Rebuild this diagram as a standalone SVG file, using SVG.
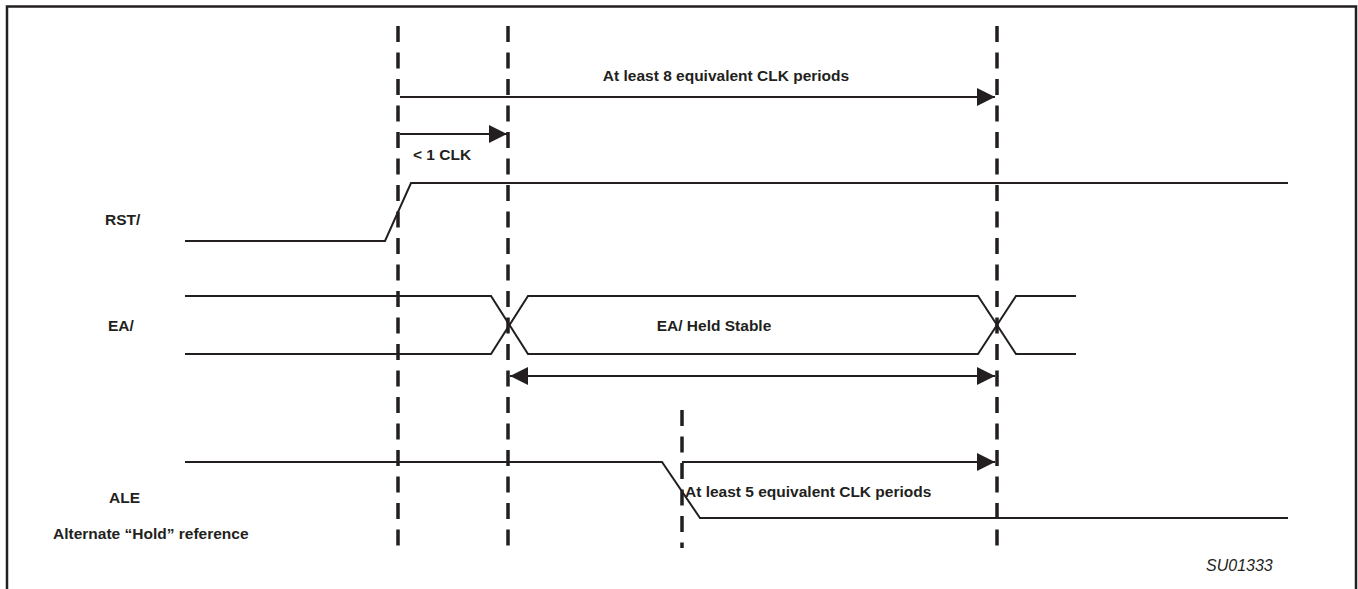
<svg xmlns="http://www.w3.org/2000/svg" width="1358" height="589" viewBox="0 0 1358 589">
<defs>
<style>
.sig{fill:none;stroke:#231f20;stroke-width:2;stroke-linejoin:miter}
.dash{fill:none;stroke:#231f20;stroke-width:3.5;stroke-dasharray:16 10.5}
.arr{fill:none;stroke:#231f20;stroke-width:2}
.frame{fill:none;stroke:#231f20;stroke-width:2.5}
.lbl{font-family:"Liberation Sans",Arial,sans-serif;font-weight:bold;font-size:15.5px;fill:#231f20}
.id{font-family:"Liberation Sans",Arial,sans-serif;font-style:italic;font-size:16px;fill:#231f20}
</style>
<marker id="ah" markerWidth="18" markerHeight="18" viewBox="0 0 18 18" refX="18" refY="9" orient="auto-start-reverse" markerUnits="userSpaceOnUse">
<path d="M0,0 L18,9 L0,18 Z" fill="#231f20"/>
</marker>
</defs>
<rect width="1358" height="589" fill="#ffffff"/>
<path class="frame" d="M7,589 L7,6.5 L1356,6.5 L1356,589"/>

<g id="guides">
<line class="dash" x1="398" y1="26" x2="398" y2="548"/>
<line class="dash" x1="508" y1="26" x2="508" y2="548"/>
<line class="dash" x1="997" y1="26" x2="997" y2="548"/>
<line class="dash" x1="682" y1="410" x2="682" y2="548"/>
</g>

<g id="RST">
<polyline class="sig" points="185,241 385,241 411,183 1288,183"/>
<text class="lbl" x="105" y="225">RST/</text>
</g>

<g id="EA">
<polyline class="sig" points="185,296 491,296 528,354 978,354 1016,296 1076,296"/>
<polyline class="sig" points="185,354 491,354 528,296 978,296 1016,354 1076,354"/>
<text class="lbl" x="108" y="331">EA/</text>
<text class="lbl" x="714" y="331" text-anchor="middle">EA/ Held Stable</text>
</g>

<g id="ALE">
<polyline class="sig" points="185,462 662,462 700,518 1288,518"/>
<text class="lbl" x="109" y="503">ALE</text>
<text class="lbl" x="53" y="539">Alternate “Hold” reference</text>
</g>

<g id="connectors">
<line class="arr" x1="400" y1="97" x2="995" y2="97" marker-end="url(#ah)"/>
<line class="arr" x1="400" y1="134" x2="507" y2="134" marker-end="url(#ah)"/>
<line class="arr" x1="510" y1="376" x2="995" y2="376" marker-start="url(#ah)" marker-end="url(#ah)"/>
<line class="arr" x1="682" y1="462" x2="995" y2="462" marker-end="url(#ah)"/>
</g>

<g id="labels">
<text class="lbl" x="726" y="81" text-anchor="middle">At least 8 equivalent CLK periods</text>
<text class="lbl" x="413" y="160">&lt; 1 CLK</text>
<text class="lbl" x="685" y="497">At least 5 equivalent CLK periods</text>
<text class="id" x="1206" y="571">SU01333</text>
</g>
</svg>
